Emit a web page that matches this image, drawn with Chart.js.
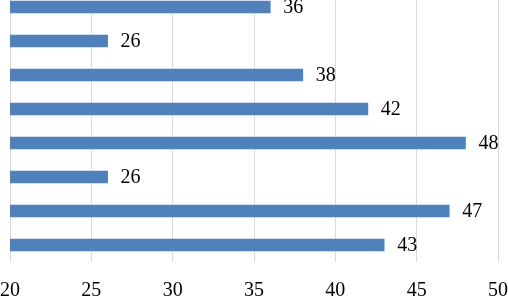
<!DOCTYPE html>
<html>
<head>
<meta charset="utf-8">
<script src="https://cdn.jsdelivr.net/npm/chart.js@4.4.1/dist/chart.umd.min.js"></script>
<style>
    html, body { margin: 0; padding: 0; background: #fff; overflow: hidden; }
    #wrap { position: absolute; left: -17px; top: -10px; width: 542px; height: 330px; }
</style>
</head>
<body>
<div id="wrap"><canvas id="barChart" width="542" height="330"></canvas></div>
<script>
// chart data (top to bottom)
const categories = ['1', '2', '3', '4', '5', '6', '7', '8'];
const values = [36, 26, 38, 42, 48, 26, 47, 43];
const xTicks = [20, 25, 30, 35, 40, 45, 50];

const BAR_COLOR = '#4F81BD';
const GRID_COLOR = '#d9d9d9';
const SERIF = '"Liberation Serif", "Times New Roman", serif';

// value labels to the right of each bar
const valueLabels = {
    id: 'valueLabels',
    afterDatasetsDraw(chart) {
        const ctx = chart.ctx;
        const meta = chart.getDatasetMeta(0);
        ctx.save();
        ctx.font = '20px ' + SERIF;
        ctx.fillStyle = '#000';
        ctx.textAlign = 'left';
        ctx.textBaseline = 'middle';
        meta.data.forEach((bar, i) => {
            ctx.fillText(String(values[i]), bar.x + 13, bar.y + 1);
        });
        ctx.restore();
    }
};

new Chart(document.getElementById('barChart').getContext('2d'), {
    type: 'bar',
    data: {
        labels: categories,
        datasets: [{
            data: values,
            backgroundColor: BAR_COLOR,
            borderWidth: 0,
            barThickness: 12
        }]
    },
    options: {
        indexAxis: 'y',
        responsive: false,
        animation: false,
        layout: { padding: 0 },
        scales: {
            x: {
                min: 20,
                max: 50,
                afterBuildTicks: (axis) => { axis.ticks = xTicks.map(v => ({ value: v })); },
                grid: { color: GRID_COLOR, lineWidth: 1, drawTicks: false },
                border: { display: false },
                ticks: {
                    color: '#000',
                    padding: 17,
                    maxRotation: 0,
                    font: { family: SERIF, size: 20 }
                }
            },
            y: {
                display: false
            }
        },
        plugins: {
            legend: { display: false },
            tooltip: { enabled: false }
        }
    },
    plugins: [valueLabels]
});
</script>
</body>
</html>
